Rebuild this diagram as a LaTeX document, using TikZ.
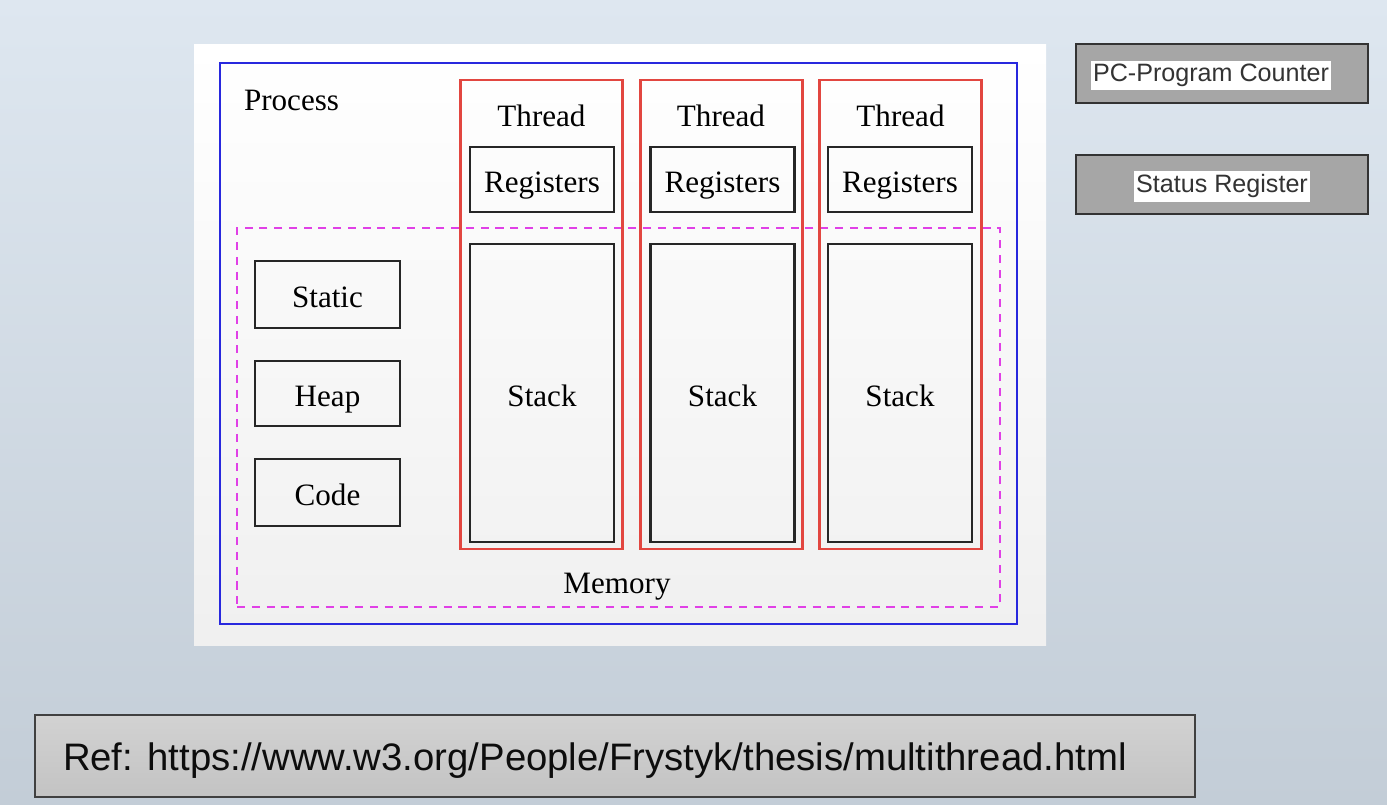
\documentclass[tikz,border=0pt]{standalone}
\usepackage{fontspec}
\setmainfont{Liberation Serif}
\setsansfont{Liberation Sans}
\usetikzlibrary{positioning}

\definecolor{bgtop}{RGB}{222,231,240}
\definecolor{bgbottom}{RGB}{195,205,215}
\definecolor{procblue}{RGB}{40,40,222}
\definecolor{threadred}{RGB}{226,70,64}
\definecolor{memmagenta}{RGB}{224,64,230}
\definecolor{regfill}{RGB}{166,166,166}
\definecolor{reffill}{RGB}{212,212,212}

\tikzset{
    every node/.append style={
        inner sep=0pt,
        outer sep=0pt
    },
    lbl/.style={
        text depth=0pt,
        font=\fontsize{17.7}{20}\selectfont
    },
    part/.style={
        lbl,
        text height=15pt,
        draw=black!85,
        line width=1.2pt,
        minimum width=2.88cm
    },
    threadframe/.style={
        draw=threadred,
        line width=1.3pt,
        minimum width=3.24cm,
        minimum height=9.38cm
    },
    cpureg/.style={
        draw=black!80,
        line width=1pt,
        fill=regfill,
        minimum width=5.84cm,
        minimum height=1.18cm
    },
    cputext/.style={
        fill=white,
        inner xsep=1pt,
        inner ysep=2pt,
        text=black!80,
        font=\sffamily\fontsize{14.3}{16}\selectfont
    }
}

\begin{document}
\begin{tikzpicture}[x=0.02cm, y=-0.02cm]
    \useasboundingbox (0,0) rectangle (1387,805);
    \shade[top color=bgtop, bottom color=bgbottom] (0,0) rectangle (1387,805);
    \shade[top color=white, middle color=white, bottom color=black!6] (194,44) rectangle (1046,645);

    % process and memory
    \node[draw=procblue, line width=1.2pt, minimum width=15.94cm, minimum height=11.22cm] (proc) at (618.5,343.5) {};
    \node[lbl, anchor=west] (proclbl) at (244,100) {Process};
    \node[draw=memmagenta, line width=1.2pt, dash pattern=on 4.6pt off 3.8pt, minimum width=15.26cm, minimum height=7.58cm] (mem) at (618.5,417.5) {};
    \node[lbl] (memlbl) at (617,583) {Memory};

    % shared parts
    \node[part, minimum width=2.9cm, minimum height=1.34cm] (static) at (327.5,294.5) {Static};
    \node[part, minimum width=2.9cm, minimum height=1.3cm] (heap) at (327.5,393.5) {Heap};
    \node[part, minimum width=2.9cm, minimum height=1.34cm] (code) at (327.5,492.5) {Code};

    % threads
    \node[threadframe] (thr1) at (541.5,314.5) {};
    \node[threadframe] (thr2) at (721.5,314.5) {};
    \node[threadframe] (thr3) at (900.5,314.5) {};
    \node[lbl] (thl1) at (541.5,116) {Thread};
    \node[lbl] (thl2) at (721,116) {Thread};
    \node[lbl] (thl3) at (900.5,116) {Thread};
    \node[part, minimum height=1.3cm] (reg1) at (542,179.5) {Registers};
    \node[part, minimum height=1.3cm] (reg2) at (722.5,179.5) {Registers};
    \node[part, minimum height=1.3cm] (reg3) at (900,179.5) {Registers};
    \node[part, minimum height=5.96cm] (stk1) at (542,393) {Stack};
    \node[part, minimum height=5.96cm] (stk2) at (722.5,393) {Stack};
    \node[part, minimum height=5.96cm] (stk3) at (900,393) {Stack};

    % cpu registers
    \node[cpureg] (pc) at (1222,73.5) {};
    \node[cputext] (pctext) at (1211,75.5) {PC-Program Counter};
    \node[cpureg] (status) at (1222,184.5) {};
    \node[cputext] (statustext) at (1222,186.5) {Status Register};

    % reference
    \node[draw=black!75, line width=1pt, top color=reffill!105, bottom color=reffill!92!black, minimum width=23.2cm, minimum height=1.64cm] (ref) at (615,756) {};
    \node[anchor=west, text=black!95, font=\sffamily\fontsize{21.8}{24}\selectfont] (reftext) at (63,761) {Ref: https://www.w3.org/People/Frystyk/thesis/multithread.html};
\end{tikzpicture}
\end{document}
